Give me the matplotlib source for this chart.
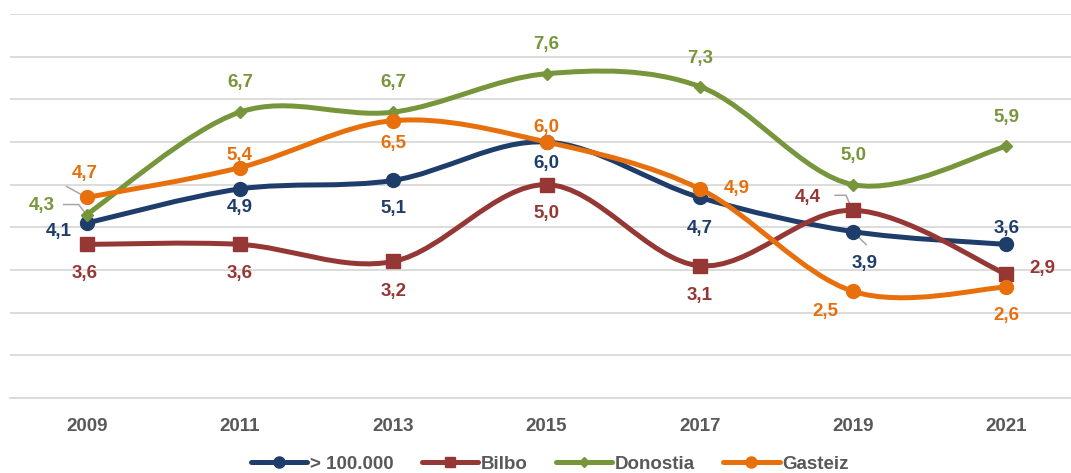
import matplotlib
matplotlib.use("Agg")
import matplotlib.pyplot as plt
from matplotlib.path import Path
from matplotlib.patches import PathPatch
from matplotlib.lines import Line2D

plt.rcParams['font.family'] = ['Liberation Sans', 'DejaVu Sans']

# chart data
years = ['2009', '2011', '2013', '2015', '2017', '2019', '2021']
big_cities = [4.1, 4.9, 5.1, 6.0, 4.7, 3.9, 3.6]
bilbo = [3.6, 3.6, 3.2, 5.0, 3.1, 4.4, 2.9]
donostia = [4.3, 6.7, 6.7, 7.6, 7.3, 5.0, 5.9]
gasteiz = [4.7, 5.4, 6.5, 6.0, 4.9, 2.5, 2.6]
names = ['> 100.000', 'Bilbo', 'Donostia', 'Gasteiz']

colors = ['#1F3D6B', '#953735', '#77963C', '#E8700C']
markers = ['o', 's', 'D', 'o']
msizes = [10, 9.5, 6.5, 10]

# label offsets in pixels (dx, dy) per series/point
offsets = [
    [(-28, -8), (0, -19), (0, -28), (0, -21), (0, -31), (12, -32), (0, 16)],
    [(-2, -29), (0, -29), (0, -30), (0, -29), (0, -30), (-45, 13), (36, 6)],
    [(-45, 9), (0, 30), (0, 30), (0, 29), (0, 28), (0, 29), (0, 29)],
    [(-2, 24), (0, 12), (0, -23), (0, 15), (37, 0), (-28, -20), (0, -28)],
]
series = [big_cities, bilbo, donostia, gasteiz]


def smooth_path(xs, ys):
    # Excel style smoothed line: cubic bezier with catmull-rom tangents
    verts = [(xs[0], ys[0])]
    codes = [Path.MOVETO]
    n = len(xs)
    for i in range(n - 1):
        x0, y0 = (xs[i - 1], ys[i - 1]) if i > 0 else (xs[i], ys[i])
        x1, y1 = xs[i], ys[i]
        x2, y2 = xs[i + 1], ys[i + 1]
        x3, y3 = (xs[i + 2], ys[i + 2]) if i + 2 < n else (x2, y2)
        c1 = (x1 + (x2 - x0) / 6, y1 + (y2 - y0) / 6)
        c2 = (x2 - (x3 - x1) / 6, y2 - (y3 - y1) / 6)
        verts += [c1, c2, (x2, y2)]
        codes += [Path.CURVE4] * 3
    return Path(verts, codes)


fig = plt.figure(figsize=(10.71, 4.73), dpi=100)
ax = fig.add_axes([10 / 1071, 75 / 473, 1073 / 1071, 384 / 473])
xs = list(range(len(years)))
ax.set_xlim(-0.5, 6.5)
ax.set_ylim(0, 9)

for k, vals in enumerate(series):
    ax.add_patch(PathPatch(smooth_path(xs, vals), fill=False, edgecolor=colors[k],
                           lw=3.6, capstyle='round', joinstyle='round', zorder=3 + k))
    ax.plot(xs, vals, linestyle='none', marker=markers[k], ms=msizes[k],
            color=colors[k], mec=colors[k], zorder=3 + k)

for k, vals in enumerate(series):
    for i, v in enumerate(vals):
        dx, dy = offsets[k][i]
        ax.annotate(('%.1f' % v).replace('.', ','), (i, v), xytext=(dx * 0.72, dy * 0.72),
                    textcoords='offset points', ha='center', va='center',
                    fontsize=13.5, fontweight='bold', color=colors[k], zorder=10)

# leader lines (pixel offsets from the data point)
leaders = [
    (3, 0, [(-20, 11), (-2, 1)]),
    (2, 0, [(-23, 10), (-8, 10), (-1, 1)]),
    (0, 5, [(2, -2), (13, -13)]),
    (1, 5, [(-18, 15), (-7, 15), (-1, 1)]),
]
for k, i, pts in leaders:
    px, py = ax.transData.transform((i, series[k][i]))
    seg = [ax.transData.inverted().transform((px + a, py + b)) for a, b in pts]
    ax.plot([p[0] for p in seg], [p[1] for p in seg], color='#A6A6A6', lw=1.1, zorder=2)

ax.set_yticks(range(0, 10))
ax.yaxis.grid(True, color='#D9D9D9', lw=1.3)
ax.set_axisbelow(True)
ax.set_yticklabels([])
ax.tick_params(left=False, bottom=False, pad=11)
ax.set_xticks(xs)
ax.set_xticklabels(years, fontsize=13.5, fontweight='bold', color='#595959')
for s in ['top', 'right', 'left']:
    ax.spines[s].set_visible(False)
ax.spines['bottom'].set_color('#D9D9D9')
ax.spines['bottom'].set_linewidth(1.3)

handles = [Line2D([], [], color=colors[k], lw=3.6, marker=markers[k], ms=msizes[k] * 0.8,
                  solid_capstyle='round') for k in range(4)]
fig.legend(handles, names, loc='center', bbox_to_anchor=(550 / 1071, 1 - 464 / 473), ncol=4,
           frameon=False, handlelength=3.0, handletextpad=0.15, columnspacing=1.5,
           prop={'size': 13.5, 'weight': 'bold'}, labelcolor='#595959')

fig.savefig('out.png', dpi=100)
